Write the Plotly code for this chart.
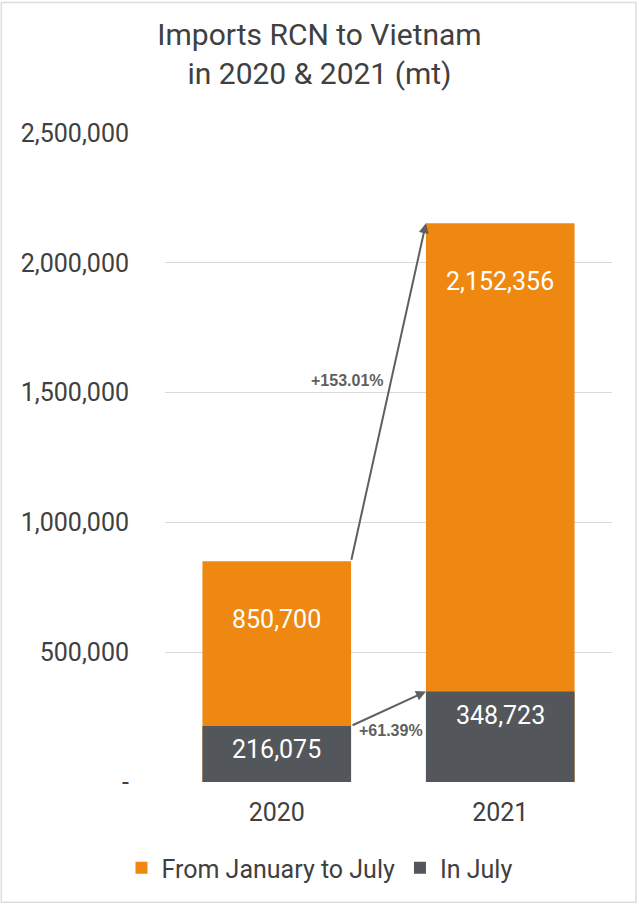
import plotly.graph_objects as go

years = ["2020", "2021"]
jan_to_jul = [850700, 2152356]
in_july = [216075, 348723]
growth_labels = ["+153.01%", "+61.39%"]
y_ticks = [0, 500000, 1000000, 1500000, 2000000, 2500000]
y_tick_text = ["-", "500,000", "1,000,000", "1,500,000", "2,000,000", "2,500,000"]

ORANGE = "#EE8811"
DARK = "#53575B"
TEXT = "#404040"
ARROW = "#5F5F5F"
FONT = "Roboto"
BW = 0.665

fig = go.Figure()
fig.add_trace(go.Bar(x=years, y=jan_to_jul, name="From January to July",
                     marker=dict(color=ORANGE, line=dict(width=0)), width=BW))
fig.add_trace(go.Bar(x=years, y=in_july, name="In July",
                     marker=dict(color=DARK, line=dict(width=0)), width=BW))

ann = []
for i, v in enumerate(jan_to_jul):
    ann.append(dict(x=i, y=v, xref="x", yref="y", text=f"{v:,}", showarrow=False,
                    yshift=-58, yanchor="middle", font=dict(family=FONT, size=25, color="white")))
for i, v in enumerate(in_july):
    ann.append(dict(x=i, y=v, xref="x", yref="y", text=f"{v:,}", showarrow=False,
                    yshift=-24, yanchor="middle", font=dict(family=FONT, size=25, color="white")))

# arrows between bar tops
for series in (jan_to_jul, in_july):
    ann.append(dict(x=1 - BW / 2, y=series[1], ax=BW / 2, ay=series[0],
                    xref="x", yref="y", axref="x", ayref="y", text="",
                    showarrow=True, arrowhead=2, arrowsize=1, arrowwidth=2,
                    arrowcolor=ARROW, standoff=0, startstandoff=0))

ann.append(dict(x=0.5, y=1545000, xref="x", yref="y", text=f"<b>{growth_labels[0]}</b>",
                showarrow=False, xshift=-41, font=dict(family="Liberation Sans", size=16, color=ARROW)))
ann.append(dict(x=0.5, y=199000, xref="x", yref="y", text=f"<b>{growth_labels[1]}</b>",
                showarrow=False, xshift=2, font=dict(family="Liberation Sans", size=16, color=ARROW)))

L, R, T, B = 165, 27.4, 132.5, 123.3
W, H = 639, 905
pw, ph = W - L - R, H - T - B

fig.update_layout(
    width=W, height=H,
    margin=dict(l=L, r=R, t=T, b=B),
    paper_bgcolor="white", plot_bgcolor="white",
    barmode="overlay",
    bargap=1 - BW,
    title=dict(text="Imports RCN to Vietnam<br>in 2020 & 2021 (mt)",
               x=0.5, xref="container", xanchor="center",
               y=1 - 45 / H, yref="container", yanchor="middle",
               font=dict(family=FONT, size=30, color=TEXT)),
    font=dict(family=FONT, color=TEXT),
    xaxis=dict(type="category", range=[-0.5, 1.5], showgrid=False, zeroline=False,
               showline=False, ticks="", tickfont=dict(family=FONT, size=25, color=TEXT),
               ticklabelstandoff=13),
    yaxis=dict(range=[0, 2500000], tickvals=y_ticks, ticktext=y_tick_text,
               showgrid=True, gridcolor="#D9D9D9", gridwidth=1, zeroline=False,
               showline=False, ticks="", tickfont=dict(family=FONT, size=25, color=TEXT),
               ticklabelstandoff=35),
    legend=dict(orientation="h", x=0.5, xanchor="center", xref="container",
                y=1 - 868 / H, yanchor="middle", yref="container",
                font=dict(family=FONT, size=25, color=TEXT), traceorder="normal"),
    annotations=ann,
    shapes=[dict(type="rect", xref="paper", yref="paper",
                 x0=(1.5 - L) / pw, x1=(635.5 - L) / pw,
                 y0=(H - B - 902) / ph, y1=(H - B - 2) / ph,
                 line=dict(color="#DDDDDD", width=1.5), layer="below")],
)

fig.write_html("out.html", config={"displayModeBar": False},
               post_script="document.body.style.margin='0';")
